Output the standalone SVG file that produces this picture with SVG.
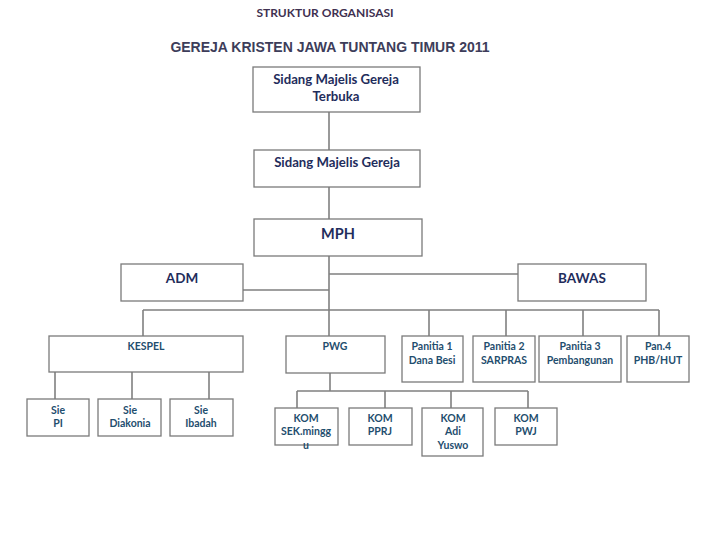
<svg xmlns="http://www.w3.org/2000/svg" width="720" height="540" viewBox="0 0 720 540">
<style>
.box{fill:#fff;stroke:#7a7a7a;stroke-width:1.3}
.con{fill:none;stroke:#808080;stroke-width:1.6}
.t1{font-family:Lato,"Open Sans",sans-serif;font-weight:bold;fill:#1f2d5c;text-anchor:middle}
.t2{font-family:Lato,"Open Sans",sans-serif;font-weight:bold;fill:#1f4e6e;text-anchor:middle;font-size:10.5px}
</style>
<rect width="720" height="540" fill="#fff"/>
<text x="325" y="17" style="font-family:Lato,sans-serif;font-weight:bold;font-size:12px;fill:#3f3151;text-anchor:middle">STRUKTUR ORGANISASI</text>
<text x="330" y="52" style="font-family:'Liberation Sans',Arial,sans-serif;font-weight:bold;font-size:14px;fill:#3d3d5a;text-anchor:middle">GEREJA KRISTEN JAWA TUNTANG TIMUR 2011</text>
<g id="connectors">
<path class="con" d="M329 112V150M329 187V219M329 256V310M329 274H518M243 290H329M143 310H659M143 310V336M329 310V336M429 310V336M506 310V336M583 310V336M659 310V336"/>
<path class="con" d="M55 372V399M132 372V399M209 372V399"/>
<path class="con" d="M330 373V391M297 391H528M297 391V408M385 391V408M451 391V408M528 391V408"/>
</g>
<g id="smgt"><rect class="box" x="253" y="67" width="167" height="45"/><text class="t1" x="336" y="84" font-size="13.2">Sidang Majelis Gereja</text><text class="t1" x="336" y="101" font-size="13.2">Terbuka</text></g>
<g id="smg"><rect class="box" x="254" y="150" width="166" height="37"/><text class="t1" x="337" y="167" font-size="13.2">Sidang Majelis Gereja</text></g>
<g id="mph"><rect class="box" x="254" y="219" width="168" height="37"/><text class="t1" x="338" y="239" font-size="14.5">MPH</text></g>
<g id="adm"><rect class="box" x="121" y="264" width="122" height="37"/><text class="t1" x="182" y="283" font-size="13.5">ADM</text></g>
<g id="bawas"><rect class="box" x="518" y="264" width="128" height="37"/><text class="t1" x="582" y="283" font-size="13.5">BAWAS</text></g>
<g id="kespel"><rect class="box" x="49" y="336" width="194" height="36"/><text class="t2" x="146" y="350">KESPEL</text></g>
<g id="pwg"><rect class="box" x="286" y="336" width="99" height="37"/><text class="t2" x="335" y="350">PWG</text></g>
<g id="panitia1"><rect class="box" x="402" y="336" width="61" height="46"/><text class="t2" x="432" y="350">Panitia 1</text><text class="t2" x="432" y="364">Dana Besi</text></g>
<g id="panitia2"><rect class="box" x="473" y="336" width="62" height="46"/><text class="t2" x="504" y="350">Panitia 2</text><text class="t2" x="504" y="364">SARPRAS</text></g>
<g id="panitia3"><rect class="box" x="539" y="336" width="82" height="46"/><text class="t2" x="580" y="350">Panitia 3</text><text class="t2" x="580" y="364">Pembangunan</text></g>
<g id="pan4"><rect class="box" x="627" y="336" width="62" height="46"/><text class="t2" x="658" y="350">Pan.4</text><text class="t2" x="658" y="364">PHB/HUT</text></g>
<g id="siepi"><rect class="box" x="27" y="399" width="62" height="37"/><text class="t2" x="58" y="414">Sie</text><text class="t2" x="58" y="427">PI</text></g>
<g id="siediakonia"><rect class="box" x="98" y="399" width="63" height="37"/><text class="t2" x="130" y="414">Sie</text><text class="t2" x="130" y="427">Diakonia</text></g>
<g id="sieibadah"><rect class="box" x="170" y="399" width="63" height="37"/><text class="t2" x="201" y="414">Sie</text><text class="t2" x="201" y="427">Ibadah</text></g>
<g id="komsek"><rect class="box" x="275" y="408" width="63" height="37"/><text class="t2" x="306" y="422">KOM</text><text class="t2" x="306" y="435">SEK.mingg</text><text class="t2" x="306" y="449">u</text></g>
<g id="kompprj"><rect class="box" x="349" y="408" width="63" height="37"/><text class="t2" x="380" y="422">KOM</text><text class="t2" x="380" y="435">PPRJ</text></g>
<g id="komadi"><rect class="box" x="422" y="408" width="61" height="48"/><text class="t2" x="453" y="422">KOM</text><text class="t2" x="453" y="435">Adi</text><text class="t2" x="453" y="449">Yuswo</text></g>
<g id="kompwj"><rect class="box" x="495" y="408" width="62" height="37"/><text class="t2" x="526" y="422">KOM</text><text class="t2" x="526" y="435">PWJ</text></g>
</svg>
